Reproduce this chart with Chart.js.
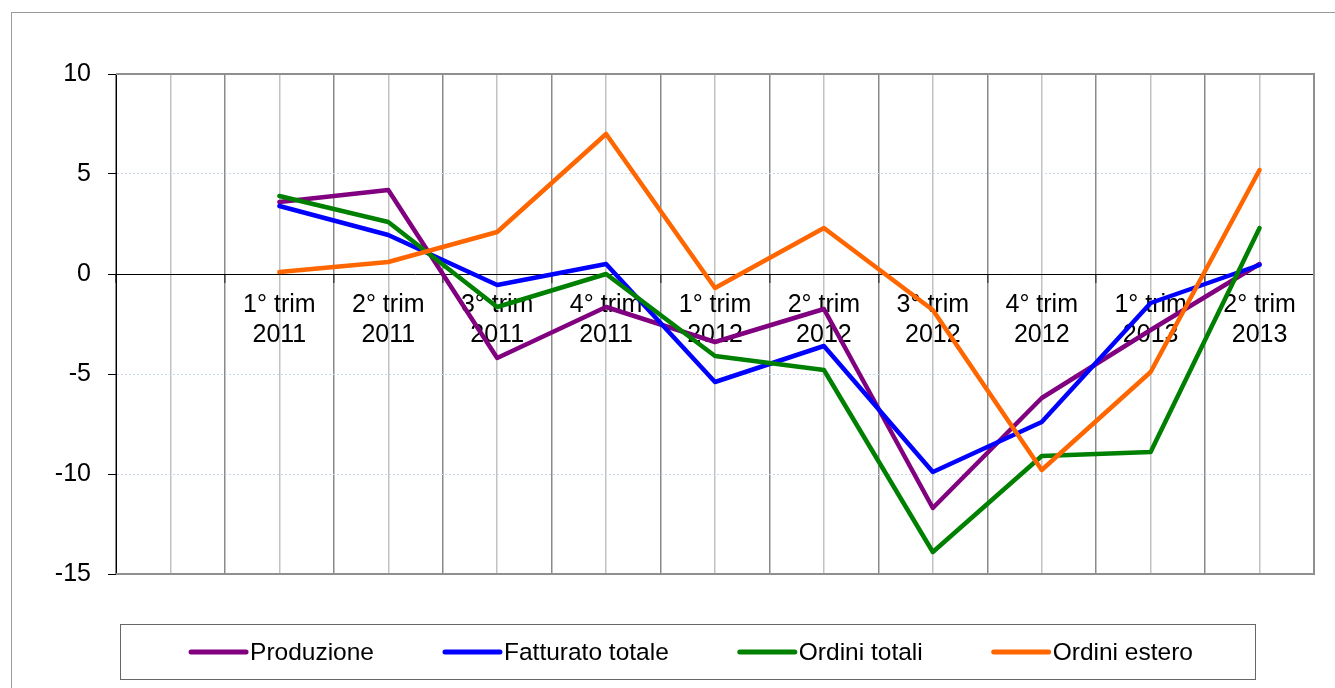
<!DOCTYPE html>
<html>
<head>
<meta charset="utf-8">
<script src="https://cdn.jsdelivr.net/npm/chart.js@4/dist/chart.umd.min.js"></script>
<style>
  html, body { margin: 0; padding: 0; background: #ffffff; }
  #wrap { width: 1335px; height: 688px; position: relative; }
</style>
</head>
<body>
<div id="wrap"><canvas id="c" width="1335" height="688"></canvas></div>
<script>
// ---- data ----
const categories = ['', '1° trim 2011', '2° trim 2011', '3° trim 2011', '4° trim 2011',
  '1° trim 2012', '2° trim 2012', '3° trim 2012', '4° trim 2012', '1° trim 2013', '2° trim 2013'];
const produzione   = [null, 3.6, 4.2, -4.2, -1.65, -3.4, -1.75, -11.7, -6.2, -2.8, 0.5];
const fatturato    = [null, 3.4, 1.95, -0.55, 0.5, -5.4, -3.6, -9.9, -7.4, -1.45, 0.45];
const ordiniTotali = [null, 3.9, 2.6, -1.65, 0.0, -4.1, -4.8, -13.9, -9.1, -8.9, 2.3];
const ordiniEstero = [null, 0.1, 0.6, 2.1, 7.0, -0.7, 2.3, -1.8, -9.8, -4.9, 5.2];
const seriesNames  = ['Produzione', 'Fatturato totale', 'Ordini totali', 'Ordini estero'];
const yTicks = [10, 5, 0, -5, -10, -15];

const FONT = '"Liberation Sans", Arial, sans-serif';
const FONT_SIZE = 25;
const colors = ['#800080', '#0000FF', '#008000', '#FF6600'];
const seriesData = [produzione, fatturato, ordiniTotali, ordiniEstero];

const datasets = seriesNames.map((name, i) => ({
  label: name,
  data: seriesData[i],
  borderColor: colors[i],
  backgroundColor: colors[i],
  borderWidth: 4.5,
  pointRadius: 0,
  pointHoverRadius: 0,
  tension: 0,
  fill: false,
  spanGaps: false,
  borderJoinStyle: 'round',
  borderCapStyle: 'round',
  order: 3 - i,
  xAxisID: 'x',
  yAxisID: 'y'
}));

const framePlugin = {
  id: 'frame',
  beforeDraw(chart) {
    const ctx = chart.ctx;
    ctx.save();
    ctx.fillStyle = '#fff';
    ctx.fillRect(0, 0, chart.width, chart.height);
    ctx.strokeStyle = '#9a9a9a';
    ctx.lineWidth = 1;
    ctx.strokeRect(11.5, 12.5, chart.width + 20, chart.height + 20);
    ctx.restore();
  },
  beforeDatasetsDraw(chart) {
    const {ctx, chartArea: a} = chart;
    ctx.save();
    ctx.strokeStyle = '#8f8f8f';
    ctx.lineWidth = 2;
    ctx.beginPath();
    ctx.moveTo(a.left, a.top); ctx.lineTo(a.right, a.top);
    ctx.lineTo(a.right, a.bottom); ctx.lineTo(a.left, a.bottom);
    ctx.stroke();
    ctx.restore();
  },
  afterDraw(chart) {
    // legend box
    const ctx = chart.ctx;
    const box = {l: 120.5, t: 624.5, r: 1255.5, b: 679.5};
    ctx.save();
    ctx.strokeStyle = '#666666';
    ctx.lineWidth = 1;
    ctx.strokeRect(box.l, box.t, box.r - box.l, box.b - box.t);
    ctx.font = (FONT_SIZE - 0.5) + 'px ' + FONT;
    ctx.textBaseline = 'middle';
    const sample = 55, gapText = 4, gapItem = 71;
    const items = chart.data.datasets.map(d => ({label: d.label, color: d.borderColor, w: ctx.measureText(d.label).width}));
    let total = 0;
    items.forEach((it, i) => { total += sample + gapText + it.w + (i < items.length - 1 ? gapItem : 0); });
    let x = (box.l + box.r) / 2 - total / 2 + 4;
    const y = (box.t + box.b) / 2;
    items.forEach(it => {
      ctx.strokeStyle = it.color;
      ctx.lineWidth = 5;
      ctx.lineCap = 'round';
      ctx.beginPath();
      ctx.moveTo(x, y); ctx.lineTo(x + sample, y);
      ctx.stroke();
      ctx.fillStyle = '#000';
      ctx.textAlign = 'left';
      ctx.fillText(it.label, x + sample + gapText, y + 1);
      x += sample + gapText + it.w + gapItem;
    });
    ctx.restore();
  }
};

new Chart(document.getElementById('c'), {
  type: 'line',
  data: { labels: categories, datasets },
  plugins: [framePlugin],
  options: {
    responsive: false,
    animation: false,
    devicePixelRatio: 1,
    layout: { padding: { left: 0, top: 74, right: 21, bottom: 114 } },
    plugins: { legend: { display: false }, tooltip: { enabled: false } },
    scales: {
      x: {
        type: 'category',
        position: { y: 0 },
        offset: true,
        grid: {
          offset: true,
          color: '#8a8a8a',
          lineWidth: 1.5,
          drawTicks: true,
          tickLength: 8,
          tickColor: '#444444'
        },
        border: { display: true, color: '#000000', width: 1 },
        ticks: {
          color: '#000000',
          font: { family: FONT, size: FONT_SIZE, lineHeight: 1.2 },
          padding: 8,
          maxRotation: 0,
          autoSkip: false,
          callback: function (v, i) {
            const s = this.getLabelForValue(v);
            if (!s) return '';
            const k = s.lastIndexOf(' ');
            return [s.slice(0, k), s.slice(k + 1)];
          }
        }
      },
      x2: {
        type: 'category',
        position: 'top',
        offset: true,
        grid: { offset: false, color: '#c2c2c2', lineWidth: 1.5, drawTicks: false },
        border: { display: false },
        ticks: { display: false }
      },
      y: {
        min: -15,
        max: 10,
        position: 'left',
        afterFit(scale) { scale.width = 116; },
        afterBuildTicks(scale) { scale.ticks = yTicks.map(v => ({ value: v })); },
        grid: {
          color: ctx => ([5, -5, -10].includes(ctx.tick && ctx.tick.value) ? '#c9d6ee' : 'rgba(0,0,0,0)'),
          lineWidth: 1,
          drawTicks: true,
          tickLength: 8,
          tickColor: '#000000'
        },
        border: { display: true, color: '#000000', width: 1, dash: [2, 2] },
        ticks: {
          color: '#000000',
          font: { family: FONT, size: FONT_SIZE },
          padding: 17
        }
      }
    }
  }
});
</script>
</body>
</html>
